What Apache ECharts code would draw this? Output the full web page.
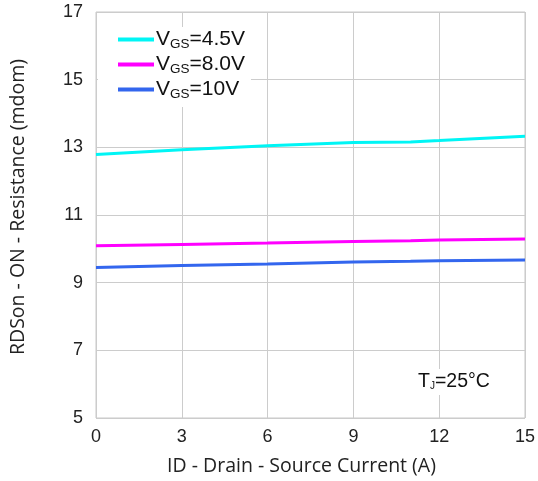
<!DOCTYPE html>
<html><head><meta charset="utf-8">
<script src="https://cdn.jsdelivr.net/npm/echarts@6/dist/echarts.min.js"></script>
<style>html,body{margin:0;padding:0;background:#fff}#c{width:538px;height:481px}</style>
</head><body><div id="c"></div>
<script>
const xValues = [0, 3, 6, 9, 11, 12, 15];
const vgs45 = [12.79, 12.93, 13.05, 13.14, 13.16, 13.2, 13.33];
const vgs80 = [10.09, 10.13, 10.17, 10.22, 10.24, 10.26, 10.29];
const vgs10 = [9.45, 9.51, 9.55, 9.61, 9.63, 9.65, 9.67];
const seriesNames = ['VGS=4.5V', 'VGS=8.0V', 'VGS=10V'];
const seriesColors = ['#00f5f5', '#ff00ff', '#3366ee'];
const yTicks = [5, 7, 9, 11, 13, 15, 17];
const xTicks = [0, 3, 6, 9, 12, 15];

const allVals = [vgs45, vgs80, vgs10];
const chart = echarts.init(document.getElementById('c'));
const font = 'Liberation Sans, Arial, sans-serif';
chart.setOption({
  animation: false,
  grid: { left: 96, right: 13, top: 12, bottom: 62, show: true, borderColor: '#c8c8c8', borderWidth: 1 },
  xAxis: {
    type: 'value', min: 0, max: 15, interval: 3,
    name: 'ID - Drain - Source Current (A)', nameLocation: 'middle', nameGap: 38,
    nameTextStyle: { fontFamily: 'Open Sans', fontSize: 19.5, color: '#222', padding: [0, 18, 0, 0] },
    axisLine: { show: false }, axisTick: { show: false },
    axisLabel: { fontFamily: font, fontSize: 18, color: '#222', margin: 10 },
    splitLine: { lineStyle: { color: '#cccccc', width: 1 } }
  },
  yAxis: {
    type: 'value', min: 5, max: 17, interval: 2,
    name: 'RDSon - ON - Resistance (mdom)', nameLocation: 'middle', nameGap: 68,
    nameTextStyle: { fontFamily: 'Open Sans', fontSize: 19.5, color: '#222', padding: [0, 0, 0, 16] },
    axisLine: { show: false }, axisTick: { show: false },
    axisLabel: { fontFamily: font, fontSize: 18, color: '#222', margin: 13 },
    splitLine: { lineStyle: { color: '#cccccc', width: 1 } }
  },
  legend: {
    orient: 'vertical', left: 98, top: 27, itemGap: 3,
    backgroundColor: '#fff', padding: [2, 6, 6, 20],
    itemWidth: 36, itemHeight: 4, icon: 'rect',
    data: seriesNames,
    formatter: function (n) { const p = n.split('='); return '{v|V}{s|GS}{v|=' + p[1] + '}'; },
    textStyle: {
      padding: [0, 0, 0, -3],
      rich: {
        v: { fontFamily: font, fontSize: 21, color: '#111' },
        s: { fontFamily: font, fontSize: 13.5, color: '#111', verticalAlign: 'bottom', padding: [9, 0, 0, 0] }
      }
    }
  },
  graphic: [{
    type: 'text', left: 416, top: 369, z: 100,
    style: {
      text: '{t|T}{j|J}{t|=25°C}',
      backgroundColor: '#fff', padding: [3, 2, 3, 2],
      rich: {
        t: { fontFamily: font, fontSize: 19.5, fill: '#111' },
        j: { fontFamily: font, fontSize: 10, fill: '#111', padding: [9, 0, 0, 0] }
      }
    }
  }],
  series: seriesNames.map((n, i) => ({
    name: n, type: 'line', showSymbol: false, symbol: 'none', smooth: false,
    color: seriesColors[i],
    lineStyle: { width: 3, color: seriesColors[i] },
    data: xValues.map((x, k) => [x, allVals[i][k]])
  }))
});
</script></body></html>
